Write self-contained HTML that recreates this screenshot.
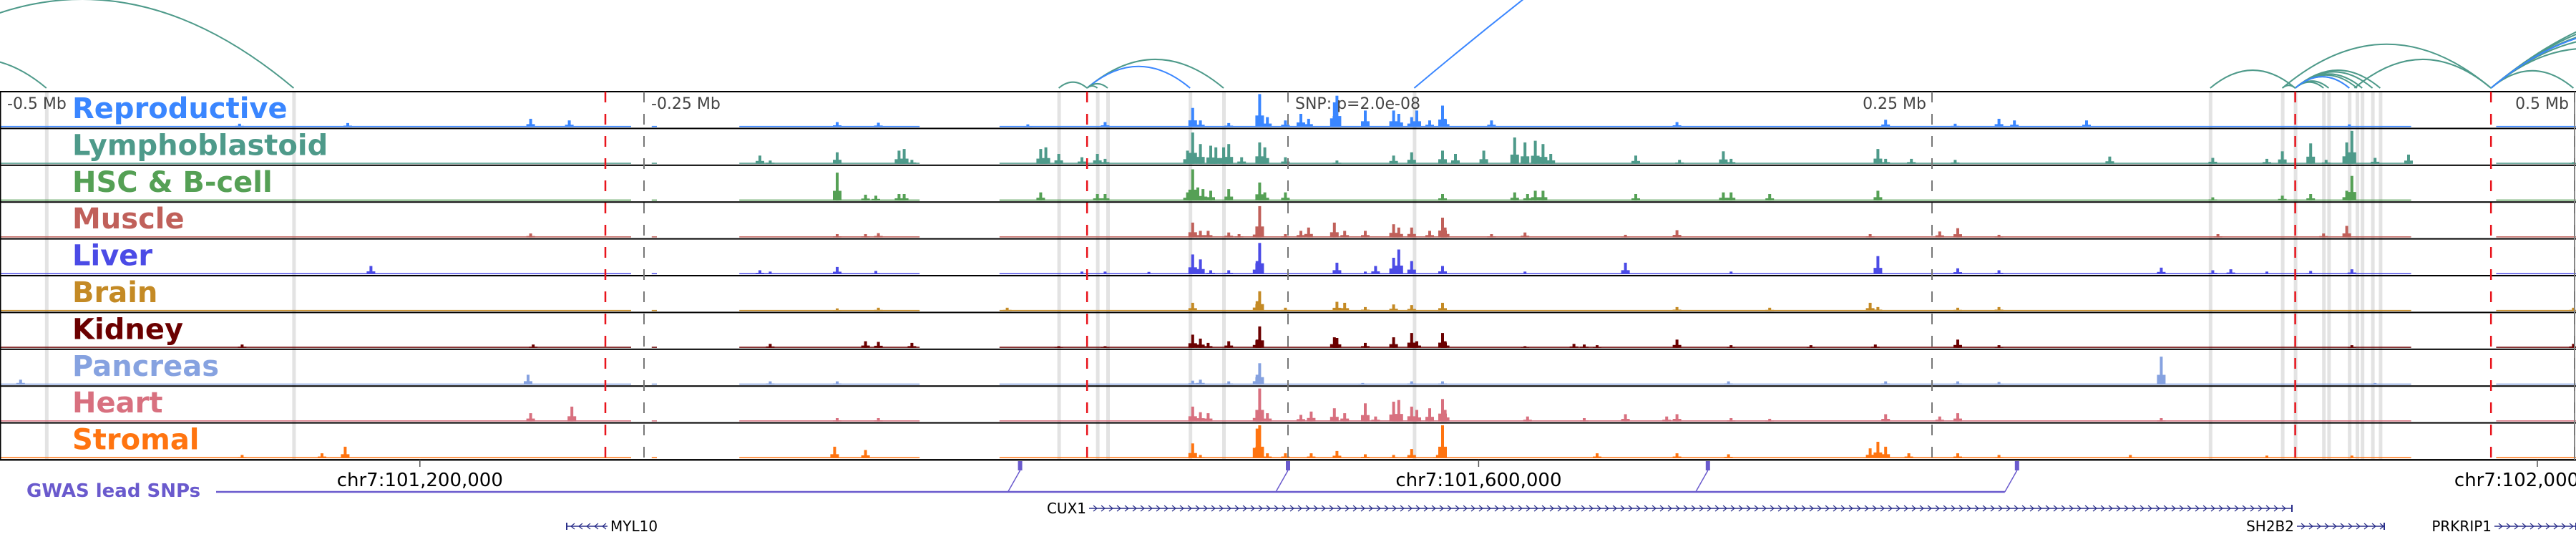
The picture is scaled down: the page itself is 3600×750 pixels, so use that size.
<!DOCTYPE html>
<html><head><meta charset="utf-8">
<style>
html,body{margin:0;padding:0;background:#fff;}
svg{display:block;}
.lbl{font-family:"DejaVu Sans","Liberation Sans",sans-serif;font-weight:bold;font-size:40px;}
.ax{font-family:"DejaVu Sans",sans-serif;font-size:22px;fill:#444;}
.coord{font-family:"DejaVu Sans",sans-serif;font-size:26px;fill:#000;}
.gene{font-family:"DejaVu Sans",sans-serif;font-size:20px;fill:#000;}
</style></head>
<body>
<svg id="chart" width="3600" height="750" viewBox="0 0 3600 750" xmlns="http://www.w3.org/2000/svg">
<g id="arcs"></g>
<g id="highlights"></g>
<g id="tracks"></g>
<g id="vlines"></g>
<g id="labels"></g>
<g id="axis"></g>
<g id="genes"></g>
</svg>
<script>
// ---- data (positions in kb relative to lead SNP; heights as fraction of track) ----
const trackNames = ["Reproductive","Lymphoblastoid","HSC & B-cell","Muscle","Liver","Brain","Kidney","Pancreas","Heart","Stromal"];
const trackColors = ["#3a86ff","#4e9a8a","#55a055","#c0605a","#4b4be6","#c48a25","#6b0000","#86a2e0","#d8707f","#ff7410"];
const peaksReproductive = [[-407,0.1],[-365,0.12],[-294,0.25],[-279,0.2],[-175,0.15],[-159,0.13],[-101,0.08],[-71,0.15],[-37,0.58],[-34,0.2],[-23,0.12],[-11,1.0],[-8,0.3],[-1,0.2],[5,0.4],[8,0.25],[18,0.75],[19,0.95],[30,0.5],[41,0.5],[43,0.4],[48,0.3],[50,0.5],[55,0.2],[60,0.65],[61,0.25],[79,0.2],[151,0.15],[232,0.22],[259,0.1],[276,0.25],[282,0.2],[310,0.2],[412,0.08]];
const peaksLymphoblastoid = [[-205,0.25],[-201,0.1],[-175,0.35],[-151,0.4],[-149,0.45],[-146,0.12],[-96,0.45],[-94,0.5],[-89,0.3],[-80,0.2],[-74,0.3],[-71,0.15],[-39,0.4],[-37,0.95],[-34,0.6],[-30,0.55],[-28,0.5],[-25,0.5],[-23,0.6],[-18,0.2],[-11,0.65],[-9,0.5],[-1,0.2],[19,0.1],[41,0.25],[48,0.35],[60,0.4],[65,0.3],[76,0.4],[88,0.8],[92,0.65],[96,0.7],[99,0.6],[102,0.3],[135,0.25],[152,0.12],[169,0.38],[172,0.15],[229,0.45],[232,0.15],[242,0.15],[259,0.12],[319,0.22],[359,0.18],[380,0.15],[386,0.38],[397,0.62],[403,0.12],[411,0.65],[413,1.0],[422,0.18],[435,0.28],[499,0.05]];
const peaksHSC = [[-175,0.85],[-164,0.18],[-160,0.15],[-151,0.2],[-149,0.2],[-96,0.25],[-74,0.2],[-71,0.2],[-39,0.25],[-37,0.95],[-35,0.4],[-33,0.35],[-30,0.3],[-23,0.35],[-11,0.55],[-9,0.25],[-1,0.25],[60,0.2],[88,0.25],[93,0.2],[96,0.3],[99,0.3],[135,0.2],[169,0.25],[172,0.25],[187,0.2],[229,0.3],[359,0.1],[386,0.15],[397,0.2],[411,0.3],[413,0.75]];
const peaksMuscle = [[-294,0.12],[-175,0.1],[-164,0.1],[-159,0.13],[-37,0.45],[-34,0.2],[-31,0.2],[-23,0.15],[-19,0.1],[-12,0.25],[-11,0.95],[-1,0.1],[5,0.2],[8,0.3],[18,0.45],[22,0.2],[30,0.2],[41,0.4],[43,0.3],[48,0.3],[55,0.2],[60,0.6],[61,0.3],[79,0.1],[92,0.15],[131,0.08],[151,0.22],[226,0.1],[253,0.18],[260,0.28],[276,0.08],[361,0.1],[402,0.12],[411,0.35]];
const peaksLiver = [[-356,0.25],[-205,0.12],[-201,0.08],[-175,0.22],[-160,0.1],[-80,0.08],[-71,0.08],[-54,0.07],[-37,0.6],[-34,0.45],[-30,0.12],[-23,0.12],[-12,0.4],[-11,0.95],[19,0.35],[30,0.08],[34,0.25],[41,0.5],[43,0.75],[48,0.4],[60,0.25],[92,0.08],[131,0.35],[172,0.08],[229,0.55],[260,0.18],[276,0.12],[339,0.2],[359,0.12],[366,0.15],[380,0.08],[397,0.1],[413,0.15]];
const peaksBrain = [[-175,0.08],[-159,0.1],[-109,0.1],[-37,0.25],[-12,0.3],[-11,0.6],[-1,0.1],[19,0.28],[22,0.25],[30,0.12],[41,0.2],[48,0.18],[60,0.25],[151,0.12],[187,0.1],[226,0.25],[229,0.12],[260,0.1],[276,0.12],[499,0.1]];
const peaksKidney = [[-406,0.1],[-293,0.1],[-201,0.12],[-164,0.2],[-159,0.18],[-146,0.15],[-89,0.05],[-71,0.05],[-37,0.4],[-34,0.28],[-31,0.15],[-23,0.2],[-12,0.25],[-11,0.65],[18,0.32],[19,0.3],[30,0.15],[41,0.32],[48,0.45],[50,0.2],[60,0.45],[61,0.2],[92,0.05],[111,0.12],[115,0.1],[120,0.08],[151,0.25],[172,0.08],[203,0.08],[228,0.1],[260,0.25],[276,0.08],[413,0.08],[499,0.12]];
const peaksPancreas = [[-492,0.15],[-295,0.3],[-201,0.1],[-175,0.1],[-37,0.12],[-34,0.15],[-23,0.1],[-12,0.3],[-11,0.65],[29,0.05],[48,0.1],[60,0.1],[171,0.1],[232,0.1],[260,0.1],[276,0.08],[339,0.85],[422,0.05]];
const peaksHeart = [[-294,0.25],[-278,0.45],[-175,0.1],[-159,0.1],[-37,0.45],[-34,0.28],[-31,0.25],[-12,0.3],[-11,1.0],[-8,0.25],[5,0.2],[9,0.3],[18,0.4],[22,0.25],[30,0.55],[34,0.15],[41,0.6],[43,0.65],[48,0.45],[50,0.35],[55,0.4],[60,0.68],[61,0.35],[93,0.15],[115,0.1],[131,0.22],[147,0.15],[151,0.22],[172,0.1],[187,0.08],[232,0.22],[253,0.15],[260,0.25],[339,0.1]];
const peaksStromal = [[-406,0.1],[-375,0.15],[-366,0.35],[-176,0.35],[-164,0.25],[-37,0.45],[-34,0.1],[-12,0.9],[-11,1.0],[-8,0.15],[-1,0.15],[9,0.15],[19,0.22],[30,0.12],[41,0.1],[48,0.28],[58,0.1],[60,1.0],[120,0.15],[151,0.15],[171,0.12],[226,0.3],[229,0.5],[232,0.35],[241,0.15],[260,0.15],[276,0.1],[327,0.1],[380,0.08],[413,0.08]];
const coverageStart = [-500,-247,-213,-112,469];
const coverageEnd = [-255,-245,-143,436,500];
const highlightKb = [-482,-386,-89,-74,-70,-38,-25,49,358,386,391,402,404,412,415,417,421,424];
const redLineKb = [-265,-78,391,467];
const tickKb = [-500,-250,0,250,500];
const tickLabels = ["-0.5 Mb","-0.25 Mb","SNP: p=2.0e-08","0.25 Mb","0.5 Mb"];
const arcStart = [-536,-550,-89,-78,-78,-78,-78,49,358,386,414,391,391,391,391,391,391,391,391,386,467,467,467,467,467,467,467];
const arcEnd   = [-482,-386,-78,-25,-38,-70,-74,1400,391,467,467,402,404,412,415,417,421,424,412,391,499,540,560,580,600,620,575];
const arcBlue  = [0,0,0,0,1,0,0,1,0,0,0,0,0,0,0,0,0,0,1,0,0,0,0,0,0,0,1];
const coordKb = [-337,74,485];
const coordLabels = ["chr7:101,200,000","chr7:101,600,000","chr7:102,000,000"];
const gwasKb = [-104,0,163,283];

const allPeaks=[peaksReproductive,peaksLymphoblastoid,peaksHSC,peaksMuscle,peaksLiver,peaksBrain,peaksKidney,peaksPancreas,peaksHeart,peaksStromal];
// ---- scales ----
const NS="http://www.w3.org/2000/svg";
const X=kb=>1800+kb*3.6;
const TOP=128, TH=51.4, BOT=TOP+10*TH;
const trackTop=i=>TOP+i*TH;
const H=f=>f*46;
function mk(tag,attrs,parent){const e=document.createElementNS(NS,tag);for(const k in attrs)e.setAttribute(k,attrs[k]);parent.appendChild(e);return e;}
const gA=document.getElementById('arcs'),gH=document.getElementById('highlights'),gT=document.getElementById('tracks'),gV=document.getElementById('vlines'),gL=document.getElementById('labels'),gX=document.getElementById('axis'),gG=document.getElementById('genes');

// arcs (quadratic bezier, peak height 0.21*width)
const ARCY=123;
arcStart.forEach((s,i)=>{
  const x1=X(s),x2=X(arcEnd[i]);const w=x2-x1;
  const p=mk('path',{d:`M${x1},${ARCY} Q${(x1+x2)/2},${ARCY-0.42*w} ${x2},${ARCY}`,fill:'none',stroke:arcBlue[i]?'#3a86ff':'#4e9a8a','stroke-width':2},gA);
  
  
});
// highlights
highlightKb.forEach(k=>{
  const r=mk('rect',{x:X(k)-2,y:TOP,width:5,height:BOT-TOP,fill:'#e3e3e3'},gH);
  
  
});
// tracks
trackNames.forEach((nm,i)=>{
  const t=trackTop(i), base=t+TH-2, col=trackColors[i];
  const g=mk('g',{},gT);
  
  
  coverageStart.forEach((s,j)=>{
    const r=mk('rect',{x:X(s),y:base-1.5,width:X(coverageEnd[j])-X(s),height:1.5,fill:col},g);
    
    
  });
  allPeaks[i].forEach(([k,v])=>{
    const h=H(v);
    const c=mk('rect',{x:X(k)-2,y:base-h,width:4,height:h,fill:col},g);
    
    
    const s1=mk('rect',{x:X(k)-6,y:base-h*0.35,width:12,height:h*0.35,fill:col},g);
    
    
  });
  const line=mk('rect',{x:0,y:t-1,width:3600,height:2,fill:'#000'},gT);
  
  
  const lb=mk('text',{x:101,y:t+37,class:'lbl',fill:col},gL);
  lb.textContent=nm;
  
  
});
const bl=mk('rect',{x:0,y:BOT-1,width:3600,height:2.5,fill:'#111'},gT);


mk('rect',{x:0,y:TOP,width:1.5,height:BOT-TOP,fill:'#000'},gT);
mk('rect',{x:3597,y:TOP,width:2,height:BOT-TOP,fill:'#888'},gT);
// red dashed lines
redLineKb.forEach(k=>{
  const l=mk('line',{x1:X(k),x2:X(k),y1:TOP,y2:BOT,stroke:'#e8141c','stroke-width':2.5,'stroke-dasharray':'15 16'},gV);
  
  
});
// ticks
tickKb.forEach((k,i)=>{
  const x=Math.min(X(k),3598);
  if(k!==-500){
    const l=mk('line',{x1:x,x2:x,y1:TOP,y2:BOT,stroke:'#777','stroke-width':2,'stroke-dasharray':'15 16'},gV);
    
    
  }
  const right=k>0;
  const tx=mk('text',{x:right?x-8:x+10,y:152,class:'ax','text-anchor':right?'end':'start'},gX);
  tx.textContent=tickLabels[i];
  
  
});
// coordinates
coordKb.forEach((k,i)=>{
  const x=X(k);
  mk('line',{x1:x,x2:x,y1:BOT,y2:BOT+10,stroke:'#555','stroke-width':1.5},gX);
  const t=mk('text',{x:x,y:679,class:'coord','text-anchor':'middle'},gX);
  t.textContent=coordLabels[i];
  
  
});
// GWAS track
const gw=mk('text',{x:37,y:694,fill:'#6a5acd','font-family':'"DejaVu Sans",sans-serif','font-weight':'bold','font-size':'26px'},gG);
gw.textContent='GWAS lead SNPs';


mk('line',{x1:302,x2:X(gwasKb[gwasKb.length-1])-17,y1:687,y2:687,stroke:'#6a5acd','stroke-width':2.5},gG);
gwasKb.forEach(k=>{
  const x=X(k);
  const m=mk('rect',{x:x-3,y:644,width:6,height:13,fill:'#6a5acd'},gG);
  
  
  mk('line',{x1:x,y1:657,x2:x-17,y2:687,stroke:'#6a5acd','stroke-width':1.5},gG);
});
// genes
function gene(name,x1,x2,y,dir,textLeft){
  const g=mk('g',{},gG);
  
  
  mk('line',{x1:x1,x2:x2,y1:y,y2:y,stroke:'#2a2f8a','stroke-width':1.5},g);
  let d='';
  for(let x=x1+6;x<x2-4;x+=11){d+=dir>0?`M${x},${y-4} L${x+5},${y} L${x},${y+4} `:`M${x+5},${y-4} L${x},${y} L${x+5},${y+4} `;}
  mk('path',{d:d,fill:'none',stroke:'#2a2f8a','stroke-width':1.2},g);
  mk('line',{x1:dir>0?x2:x1,x2:dir>0?x2:x1,y1:y-5,y2:y+5,stroke:'#2a2f8a','stroke-width':2},g);
  const t=mk('text',textLeft?{x:x1-4,y:y+7,class:'gene','text-anchor':'end'}:{x:x2+4,y:y+7,class:'gene'},g);
  t.textContent=name;
}
gene('MYL10',792,849,735,-1,false);
gene('CUX1',1522,3203,710,1,true);
gene('SH2B2',3210,3332,735,1,true);
gene('PRKRIP1',3486,3600,735,1,true);
</script>
</body></html>
